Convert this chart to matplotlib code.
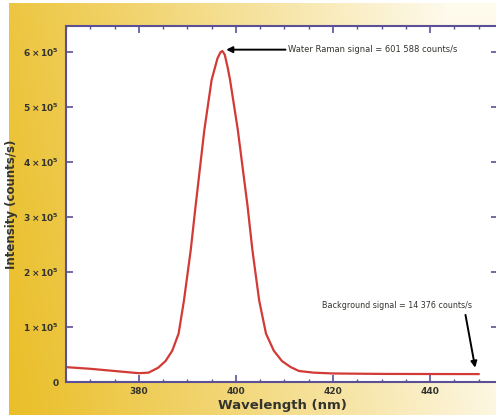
import numpy as np
import matplotlib
matplotlib.use("Agg")
import matplotlib.pyplot as plt
from matplotlib.ticker import MultipleLocator, FuncFormatter

plt.rcParams["mathtext.default"] = "bf"

# spectrum
wavelength = [365, 370, 375, 380, 382, 384, 385.5, 386.9, 388.2, 389.3, 390.7,
              391.7, 393.5, 395.0, 396.2, 396.8, 397.2, 397.7, 398.3, 398.8,
              400.4, 402.4, 403.4, 404.8, 406.2, 407.8, 409.5, 411.3, 413, 416,
              420, 430, 440, 450]
intensity = [2.7e4, 2.4e4, 2.0e4, 1.6e4, 1.7e4, 2.6e4, 3.8e4, 5.7e4, 8.8e4,
             1.48e5, 2.4e5, 3.2e5, 4.58e5, 5.49e5, 5.88e5, 5.99e5, 6.016e5,
             5.95e5, 5.72e5, 5.49e5, 4.58e5, 3.2e5, 2.4e5, 1.48e5, 0.88e5,
             0.57e5, 0.38e5, 0.27e5, 0.2e5, 0.17e5, 0.155e5, 0.147e5, 0.145e5,
             0.144e5]

x_ticks = [380, 400, 420, 440]
y_ticks = [0, 1e5, 2e5, 3e5, 4e5, 5e5, 6e5]

raman_text = "Water Raman signal = 601 588 counts/s"
background_text = "Background signal = 14 376 counts/s"

spine_col = "#5b5096"
text_col = "#34342e"

fig = plt.figure(figsize=(4.96, 4.19), dpi=100)

# gold to cream gradient behind everything
bg = fig.add_axes([0, 0, 1, 1], zorder=0)
w, h = 496, 419
xx, yy = np.meshgrid(np.linspace(0, 1, w), np.linspace(0, 1, h))
t = np.clip(xx * 0.95 + (1 - yy) * 0.15, 0, 1) ** 1.1
gold = np.array([234, 190, 38]) / 255
cream = np.array([254, 250, 236]) / 255
img = gold[None, None, :] * (1 - t[..., None]) + cream[None, None, :] * t[..., None]
img[:, :9] = 1.0
img[:4, :] = 1.0
img[-4:, :] = 1.0
bg.imshow(img, aspect="auto", extent=[0, 1, 0, 1])
bg.axis("off")

ax = fig.add_axes([66 / 496, 37 / 419, 432 / 496, 356 / 419], zorder=1)
ax.set_facecolor("white")
ax.plot(wavelength, intensity, color="#d23a36", lw=1.6, solid_joinstyle="round")

ax.set_xlim(365, 454)
ax.set_ylim(0, 6.47e5)
ax.set_xticks(x_ticks)
ax.xaxis.set_minor_locator(MultipleLocator(5))
ax.set_yticks(y_ticks)


def sci(v, pos):
    if v == 0:
        return "0"
    return r"$%d\times10^5$" % round(v / 1e5)


ax.yaxis.set_major_formatter(FuncFormatter(sci))
ax.tick_params(which="both", direction="in", top=True, right=True,
               color=spine_col, labelcolor=text_col, labelsize=6.5)
ax.tick_params(which="major", length=5, width=1.2)
ax.tick_params(which="minor", length=2.5, width=1)
ax.tick_params(axis="y", pad=5)
for lbl in ax.get_xticklabels() + ax.get_yticklabels():
    lbl.set_fontweight("bold")
for s in ax.spines.values():
    s.set_color(spine_col)
    s.set_linewidth(1.5)

ax.set_xlabel("Wavelength (nm)", fontsize=9.5, fontweight="bold",
              color=text_col, labelpad=2)
ax.set_ylabel("Intensity (counts/s)", fontsize=8.5, fontweight="bold",
              color=text_col, labelpad=4)

ax.annotate(raman_text, xy=(398.0, 6.04e5), xytext=(410.8, 6.04e5),
            fontsize=6, color=text_col, va="center", ha="left",
            arrowprops=dict(arrowstyle="-|>", color="black", lw=1.4,
                            mutation_scale=9, shrinkA=0, shrinkB=0))
ax.text(433.2, 1.39e5, background_text, fontsize=5.8, color=text_col,
        ha="center", va="center")
ax.annotate("", xy=(449.3, 0.26e5), xytext=(447.3, 1.22e5),
            arrowprops=dict(arrowstyle="-|>", color="black", lw=1.4,
                            mutation_scale=9, shrinkA=0, shrinkB=0))

fig.savefig("out.png", dpi=100)
